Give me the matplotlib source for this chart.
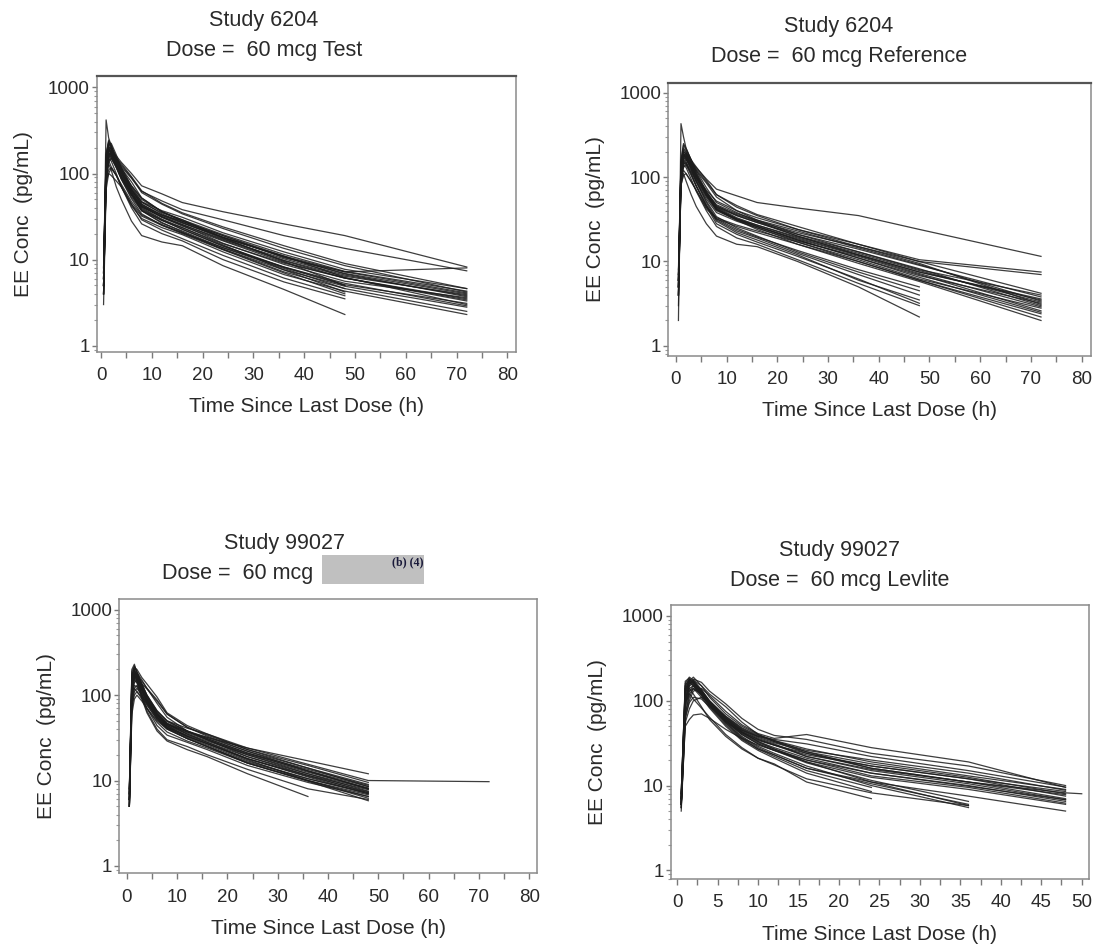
import numpy as np
import matplotlib
matplotlib.use("Agg")
import matplotlib.pyplot as plt
from matplotlib.ticker import FixedLocator, LogLocator, NullFormatter, FixedFormatter
from matplotlib.patches import Rectangle

nan = np.nan

# ---------------- data ----------------
times_6204 = [0.5, 1, 1.5, 2, 3, 4, 6, 8, 12, 16, 24, 36, 48, 72]

conc_6204_test = [
    [5, 420, 260, 210, 150, 115, 72, 50, 36, 29, 18, 11, 7.2, 4.1],
    [8, 150, 205, 190, 160, 135, 100, 72, 58, 46, 36, 26, 19, 8.2],
    [6, 115, 170, 165, 140, 120, 88, 62, 48, 38, 29, 19, 13.5, 7.4],
    [4, 85, 150, 175, 135, 104, 72, 52, 36, 28, 19, 10.5, 7.2, 8],
    [5, 110, 185, 200, 150, 108, 66, 43, 31, 25, 15.5, 8.8, 5.6, 3.6],
    [6, 135, 215, 225, 165, 118, 70, 47, 34, 27, 17.5, 9.8, 6.4, 3.9],
    [4, 75, 135, 150, 122, 92, 57, 39, 29, 22.5, 14.5, 8.2, 5.1, 3.1],
    [7, 160, 235, 205, 142, 102, 61, 41, 31, 24.5, 16.5, 9.3, 6.1, 3.5],
    [3, 65, 100, 115, 95, 75, 47, 33, 25.5, 20.5, 13.2, 7.6, 4.9, 2.8],
    [5, 100, 165, 185, 142, 106, 64, 46, 35, 29, 19.5, 11.5, 7.3, 4.3],
    [6, 125, 195, 175, 128, 93, 57, 37, 27, 21, 13.2, 7.2, 4.6, 2.5],
    [5, 80, 100, 95, 82, 70, 42, 30, 23.5, 19.5, 12.3, 6.7, 4.3, 2.3],
    [8, 165, 245, 215, 152, 111, 67, 47, 37, 31, 20.5, 12.3, 7.7, 4.6],
    [4, 95, 152, 162, 128, 94, 57, 41, 31.5, 25.5, 17.2, 10.2, 6.6, 3.8],
    [6, 108, 172, 152, 117, 86, 53, 37, 28.5, 23.5, 15.3, 9.1, 6.1, 3.3],
    [5, 142, 205, 192, 147, 110, 65, 44, 32.5, 26.5, 18.3, 10.7, 6.9, 4.0],
    [7, 98, 142, 120, 95, 70, 44, 32, 25, 20.5, 13.8, 8.2, 5.3, 2.9],
    [5, 128, 188, 178, 137, 101, 61, 42, 31.5, 25.5, 16.8, 9.7, 6.1, 3.4],
    [6, 140, 190, 180, 150, 125, 90, 60, 44, 34, 23, 13.5, 8.5, 4.2],
    [5, 105, 160, 175, 150, 130, 92, 63, 45, 35, 24, 14.5, 9, 4.6],
    [7, 170, 230, 200, 150, 106, 63, 44, 33, 28, 19, 11, 6.2, 3.0],
    [4, 90, 140, 155, 118, 88, 56, 42, 33, 27, 18, 10.8, 6.8, 3.7],
    [4, 90, 130, 110, 70, 50, 28, 19, 16, 14.5, 8.5, 4.5, 2.3, nan],
    [5, 100, 150, 140, 100, 70, 40, 26, 20, 16.5, 10, 5.5, 3.5, nan],
    [6, 130, 190, 170, 120, 86, 51, 34, 25, 20, 13, 7, 4, nan],
    [5, 110, 172, 162, 126, 91, 56, 38, 28.5, 22.5, 14.3, 8.1, 5, nan],
    [7, 152, 222, 192, 141, 101, 59, 40, 29.5, 23.5, 14.8, 7.6, 4.2, nan],
    [4, 82, 110, 118, 96, 72, 44, 29, 22, 17.5, 11.2, 6.1, 3.8, nan],
    [6, 122, 182, 172, 131, 96, 58, 37, 26.5, 21.5, 13.7, 7.9, 4.6, nan],
    [5, 140, 200, 180, 145, 115, 80, 52, 36, 28, 18, 9.5, 5, nan],
]

conc_6204_ref = [
    [2, 430, 300, 220, 160, 120, 75, 50, 38, 30, 20, 12, 7.5, 3.5],
    [6, 120, 180, 170, 150, 130, 95, 72, 60, 50, 43, 35, 24, 11.5],
    [5, 130, 200, 190, 155, 125, 88, 62, 46, 36, 26, 16, 10.5, 7.5],
    [4, 100, 160, 170, 130, 100, 70, 52, 40, 33, 24, 15, 10, 7],
    [7, 150, 240, 210, 160, 115, 68, 46, 35, 29, 21, 13, 8, 4],
    [5, 110, 180, 190, 140, 100, 62, 42, 32, 27, 19, 12, 7.5, 3.6],
    [3, 90, 140, 150, 120, 92, 58, 40, 31, 26, 18, 11, 6.8, 3.2],
    [6, 140, 220, 200, 150, 108, 65, 44, 33, 27, 19.5, 12.5, 7.8, 3.3],
    [4, 80, 105, 110, 90, 70, 44, 33, 27, 23, 17, 10.5, 6.2, 2.8],
    [5, 120, 170, 160, 140, 120, 85, 58, 40, 31, 21, 14, 9, 3.8],
    [8, 160, 250, 220, 160, 112, 66, 43, 32, 26, 18, 11, 6.5, 2.5],
    [5, 100, 150, 140, 115, 88, 55, 38, 30, 25, 17.5, 11.5, 7, 2.6],
    [6, 130, 190, 180, 140, 102, 62, 41, 31, 25, 17, 10, 6, 2.2],
    [4, 110, 170, 175, 135, 98, 60, 41, 32, 26, 18.5, 11.8, 7.2, 2.9],
    [6, 90, 120, 110, 88, 70, 42, 32, 26, 22, 16, 10, 6, 2.4],
    [5, 125, 185, 175, 138, 102, 64, 45, 36, 30, 22, 15, 9.5, 3.1],
    [7, 140, 200, 185, 145, 106, 63, 42, 31, 24, 16, 9.5, 5.8, 2.0],
    [6, 150, 210, 195, 160, 132, 92, 62, 44, 35, 24, 16, 10, 4.2],
    [5, 115, 175, 180, 142, 104, 66, 47, 37, 31, 23, 14.5, 9.2, 3.4],
    [4, 95, 150, 160, 128, 96, 61, 44, 35, 29, 20, 13, 8.2, 3.0],
    [4, 80, 110, 90, 62, 45, 28, 20, 16, 15, 10, 5, 2.2, nan],
    [5, 95, 140, 130, 95, 68, 40, 26, 19, 16, 10.5, 5.5, 3, nan],
    [6, 110, 160, 150, 110, 78, 45, 28, 21, 17, 11.5, 6.2, 3.2, nan],
    [5, 100, 150, 145, 110, 80, 47, 31, 23, 19, 12.5, 7, 4, nan],
    [6, 120, 180, 165, 125, 90, 52, 34, 25, 20, 13, 7.5, 4.5, nan],
    [4, 90, 130, 140, 105, 78, 46, 30, 22, 18, 12, 6, 3.5, nan],
    [7, 135, 190, 170, 125, 88, 50, 32, 24, 19.5, 13.5, 8, 5, nan],
]

times_99027 = [0.5, 1, 1.5, 2, 3, 4, 6, 8, 12, 16, 24, 36, 48, 72]

conc_99027_test = [
    [8, 200, 230, 180, 130, 100, 65, 50, 38, 30, 20, 12, 7.5, nan],
    [6, 150, 210, 200, 160, 135, 95, 62, 44, 35, 23, 14, 8.5, nan],
    [5, 100, 160, 170, 145, 120, 88, 60, 42, 33, 22, 13, 8, nan],
    [7, 180, 200, 160, 100, 70, 44, 34, 28, 23, 15, 9.5, 6.5, nan],
    [5, 60, 90, 100, 85, 70, 50, 40, 31, 25, 16, 10, 6.8, nan],
    [6, 120, 180, 170, 125, 95, 62, 46, 35, 28, 18, 11, 7, nan],
    [8, 140, 190, 160, 115, 85, 55, 42, 32, 26, 17, 10.5, 7.2, nan],
    [5, 80, 120, 130, 105, 82, 56, 44, 35, 29, 20, 12.5, 8.2, nan],
    [7, 160, 220, 190, 135, 98, 60, 44, 33, 27, 17.5, 10, 6.5, nan],
    [6, 110, 150, 140, 110, 85, 58, 46, 37, 31, 21, 13.5, 8.8, nan],
    [5, 90, 140, 150, 135, 118, 85, 60, 42, 34, 23, 15, 9.5, nan],
    [8, 130, 170, 150, 95, 65, 40, 30, 25, 20, 13.5, 8, 6, nan],
    [6, 170, 200, 170, 120, 90, 58, 43, 33, 27, 18, 11.5, 7.8, nan],
    [5, 70, 110, 120, 100, 80, 55, 42, 34, 28, 19, 12, 8, nan],
    [7, 120, 160, 150, 115, 88, 58, 45, 36, 30, 20.5, 13, 8.5, nan],
    [6, 100, 130, 125, 100, 78, 52, 40, 31, 25, 16.5, 10.5, 7, nan],
    [5, 150, 180, 160, 120, 90, 60, 46, 37, 32, 24, 17, 12, nan],
    [7, 110, 170, 180, 135, 100, 66, 50, 41, 35, 24, 15.5, 10, 9.7],
    [6, 130, 160, 140, 90, 62, 38, 29, 23, 19, 12, 6.5, nan, nan],
    [8, 90, 120, 110, 90, 70, 48, 37, 29, 24, 16, 10, 6.2, nan],
    [5, 140, 190, 175, 130, 97, 64, 49, 38, 31, 21, 12.8, 8, nan],
    [6, 160, 175, 150, 110, 82, 54, 41, 31, 25, 16, 9.8, 5.8, nan],
    [7, 190, 215, 185, 150, 120, 80, 55, 38, 30, 19, 11.5, 7.2, nan],
    [5, 75, 100, 110, 95, 76, 52, 41, 33, 27, 18, 11.2, 7.4, nan],
    [6, 125, 165, 160, 122, 92, 61, 47, 38, 32, 22, 14, 9, nan],
]

times_99027_lev = [0.5, 1, 1.5, 2, 3, 4, 6, 8, 10, 12, 16, 24, 36, 48, 50]

conc_99027_lev = [
    [7, 110, 140, 120, 85, 60, 38, 27, 21, 18, 11, 7, nan, nan, nan],
    [6, 90, 130, 140, 110, 82, 50, 34, 26, 21, 14, 8.5, nan, nan, nan],
    [8, 150, 180, 160, 120, 88, 54, 36, 27, 22, 15, 9.5, nan, nan, nan],
    [6, 100, 150, 160, 125, 92, 56, 38, 29, 24, 17, 10, 5.5, nan, nan],
    [7, 130, 170, 150, 115, 85, 52, 35, 27, 23, 16, 10.5, 6, nan, nan],
    [5.5, 70, 120, 140, 120, 90, 57, 40, 31, 26, 18.5, 11.5, 6.5, nan, nan],
    [6, 120, 160, 170, 135, 98, 62, 43, 33, 27, 19, 11, 5.8, nan, nan],
    [7, 120, 170, 190, 150, 110, 70, 50, 40, 34, 25, 16, 11, 8.2, 8],
    [6, 90, 150, 180, 165, 130, 92, 62, 46, 39, 35, 24, 17, 10, nan],
    [8, 150, 180, 160, 120, 90, 58, 42, 34, 30, 24, 17, 12, 8.5, nan],
    [5.5, 60, 100, 130, 140, 115, 75, 52, 41, 36, 40, 28, 19, 9.5, nan],
    [6, 100, 160, 170, 130, 95, 60, 42, 33, 28, 21, 14, 10, 6.5, nan],
    [7, 130, 175, 160, 125, 92, 58, 40, 31, 26, 19, 12.5, 9, 6, nan],
    [6, 70, 110, 140, 120, 95, 62, 44, 35, 30, 23, 17, 12, 7.5, nan],
    [5, 55, 80, 100, 110, 95, 65, 47, 38, 33, 26, 20, 14, 8.8, nan],
    [8, 170, 185, 165, 125, 90, 55, 37, 28, 23, 16, 11, 7.5, 5, nan],
    [6, 110, 160, 175, 150, 120, 85, 56, 40, 33, 24, 16, 11, 7, nan],
    [7, 140, 175, 165, 130, 97, 63, 45, 36, 31, 22, 15, 10.5, 6.8, nan],
    [6, 80, 130, 150, 130, 100, 66, 48, 39, 34, 27, 19, 13, 9, nan],
    [7, 100, 140, 150, 120, 90, 58, 41, 32, 27, 20, 13, 9.5, 6.2, nan],
    [5.5, 65, 95, 110, 105, 85, 58, 43, 35, 30, 22, 15.5, 11, 7.8, nan],
    [8, 160, 190, 175, 135, 100, 64, 46, 37, 32, 25, 18, 12.5, 8, nan],
    [6, 50, 60, 68, 70, 62, 46, 36, 30, 26, 20, 14, 9.8, 6.8, nan],
    [7, 95, 120, 105, 82, 64, 40, 28, 21, 17.5, 12, 8.2, 5.8, nan, nan],
    [6, 140, 165, 150, 118, 90, 60, 45, 38, 35, 31, 22, 15, 9.6, nan],
]

x_ticks_80 = [0, 10, 20, 30, 40, 50, 60, 70, 80]
x_ticks_50 = [0, 5, 10, 15, 20, 25, 30, 35, 40, 45, 50]
y_ticks = [1, 10, 100, 1000]
y_tick_labels = ["1", "10", "100", "1000"]

x_label = "Time Since Last Dose (h)"
y_label = "EE Conc  (pg/mL)"

# ---------------- figure ----------------
W, H = 1098, 948
plt.rcParams["font.family"] = ["Liberation Sans", "DejaVu Sans"]
TXT = "#2a2a2a"
fig = plt.figure(figsize=(W / 100, H / 100), dpi=100)


def px_rect(x0, y0, x1, y1):
    return [x0 / W, 1 - y1 / H, (x1 - x0) / W, (y1 - y0) / H]


panels = [
    dict(rect=(96.7, 76, 516, 351.7), t=times_6204, c=conc_6204_test,
         xlim=(-0.85, 81.7), ylim=(0.85, 1360), xt=x_ticks_80, top_dark=True),
    dict(rect=(668.3, 82.7, 1090.7, 355.7), t=times_6204, c=conc_6204_ref,
         xlim=(-1.5, 81.8), ylim=(0.765, 1314), xt=x_ticks_80, top_dark=True),
    dict(rect=(119.3, 599, 537.3, 873.3), t=times_99027, c=conc_99027_test,
         xlim=(-1.5, 81.6), ylim=(0.82, 1335), xt=x_ticks_80, top_dark=False),
    dict(rect=(670.7, 605, 1089, 879), t=times_99027_lev, c=conc_99027_lev,
         xlim=(-0.8, 50.9), ylim=(0.79, 1348), xt=x_ticks_50, top_dark=False),
]

for p in panels:
    x0, y0, x1, y1 = p["rect"]
    ax = fig.add_axes(px_rect(x0, y0, x1, y1))
    tt = np.array(p["t"], dtype=float)
    for row in p["c"]:
        cc = np.array(row, dtype=float)
        m = ~np.isnan(cc)
        ax.plot(tt[m], cc[m], color="#1c1c1c", lw=0.9, alpha=0.85)
    ax.set_yscale("log")
    ax.set_xlim(*p["xlim"])
    ax.set_ylim(*p["ylim"])
    ax.yaxis.set_major_locator(FixedLocator(y_ticks))
    ax.yaxis.set_major_formatter(FixedFormatter(y_tick_labels))
    ax.yaxis.set_minor_locator(LogLocator(base=10, subs=np.arange(2, 10)))
    ax.yaxis.set_minor_formatter(NullFormatter())
    ax.xaxis.set_major_locator(FixedLocator(p["xt"]))
    ax.set_xticklabels([str(v) for v in p["xt"]])
    step = p["xt"][1] - p["xt"][0]
    ax.xaxis.set_minor_locator(FixedLocator([v + step / 2 for v in p["xt"][:-1]]))
    for s in ax.spines.values():
        s.set_color("#8a8a8a")
        s.set_linewidth(1.1)
    if p["top_dark"]:
        ax.spines["top"].set_color("#555555")
        ax.spines["top"].set_linewidth(1.6)
    ax.tick_params(axis="x", which="both", direction="out", length=4, width=1.0,
                   color="#7a7a7a", pad=7, labelsize=13.5, labelcolor=TXT)
    ax.tick_params(axis="y", which="major", direction="out", length=3.5, width=1.0,
                   color="#7a7a7a", pad=1.5, labelsize=13.5, labelcolor=TXT)
    ax.tick_params(axis="y", which="minor", direction="out", length=2, width=0.8,
                   color="#9a9a9a")
    axw = x1 - x0
    axh = y1 - y0
    ax.set_xlabel(x_label, fontsize=15, color=TXT, va="center")
    ax.xaxis.set_label_coords(0.5, -55 / axh)
    ax.set_ylabel(y_label, fontsize=15, color=TXT, va="center")
    ax.yaxis.set_label_coords(-73 / axw, 0.5)


def ftext(xpx, ypx, s, **kw):
    fig.text(xpx / W, 1 - ypx / H, s, color=TXT, fontsize=15.5, va="baseline", **kw)


# titles
ftext(264, 26, "Study 6204", ha="center")
ftext(264, 56, "Dose =  60 mcg Test", ha="center")
ftext(839, 32, "Study 6204", ha="center")
ftext(839, 62, "Dose =  60 mcg Reference", ha="center")
ftext(285, 549.5, "Study 99027", ha="center")
ftext(313, 579.5, "Dose =  60 mcg", ha="right")
ftext(839.5, 556, "Study 99027", ha="center")
ftext(839.5, 586, "Dose =  60 mcg Levlite", ha="center")

# redaction box in the third title
fig.patches.append(Rectangle((322 / W, 1 - 583.5 / H), (424 - 322) / W, (583.5 - 555) / H,
                             transform=fig.transFigure, facecolor="#c0c0c0",
                             edgecolor="none", zorder=1))
fig.text(423 / W, 1 - 562.5 / H, "(b) (4)", ha="right", va="center", fontsize=8.5,
         fontweight="bold", color="#1a1a3a", family=["Liberation Serif", "DejaVu Serif"])

fig.savefig("out.png", dpi=100, facecolor="white")
